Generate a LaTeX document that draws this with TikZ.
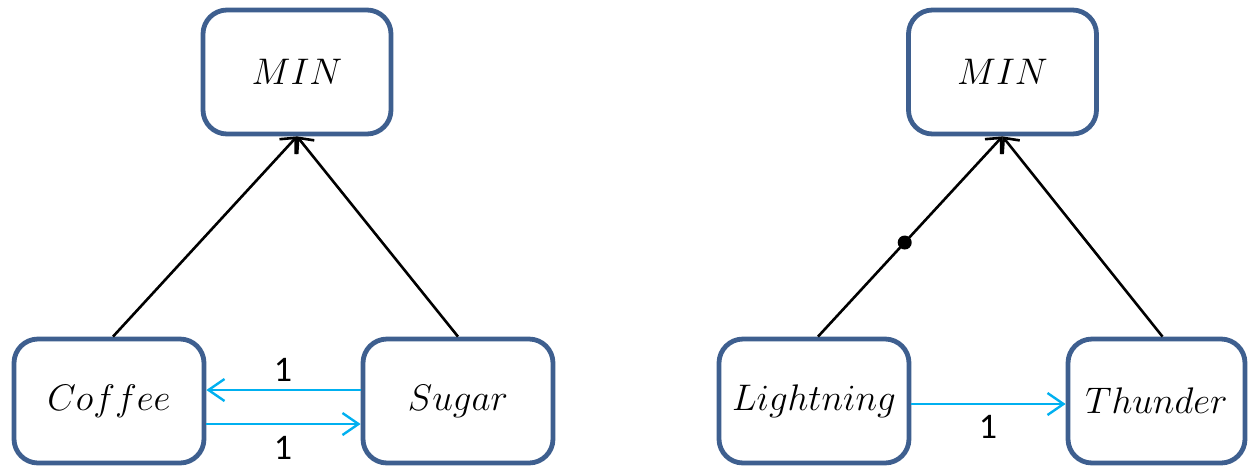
\documentclass[tikz,border=0pt]{standalone}
\usepackage{fix-cm}
\usepackage{fontspec}
\newfontfamily\labelfont{Carlito}
\usetikzlibrary{arrows.meta}
\definecolor{boxblue}{HTML}{3E5F8F}
\definecolor{linkblue}{HTML}{00B0F0}

\begin{document}
\begin{tikzpicture}[x=0.5pt,y=-0.5pt,
  box/.style={draw=boxblue, line width=2.4pt, rounded corners=12pt, fill=white,
    minimum height=62pt, inner sep=0pt, font=\fontsize{18.5}{22}\selectfont},
  feeds/.style={draw=black, line width=1.3pt, -{Straight Barb[length=6pt,width=11pt]}},
  link/.style={draw=linkblue, line width=1.2pt, -{Straight Barb[length=8pt,width=11pt]}},
  joint/.style={circle, fill=black, inner sep=0pt, minimum size=7pt},
  count/.style={font=\labelfont\fontsize{18}{20}\selectfont, inner sep=0pt}]
\useasboundingbox (0,0) rectangle (1248,468);

% left diagram
\node[box, minimum width=94pt] (minA) at (297,72) {$MIN$};
\node[box, minimum width=95pt] (coffee) at (109,401) {$Coffee$};
\node[box, minimum width=95pt] (sugar) at (458,401) {$Sugar$};

\draw[feeds] ([xshift=2pt]coffee.north) -- (minA.south);
\draw[feeds] (sugar.north) -- (minA.south);
\draw[link] ([yshift=5.5pt]sugar.west) -- ([yshift=5.5pt]coffee.east);
\draw[link] ([yshift=-11.5pt]coffee.east) -- ([yshift=-11.5pt]sugar.west);
\node[count] (upper) at (283,370) {1};
\node[count] (lower) at (283,448) {1};

% right diagram
\node[box, minimum width=94pt] (minB) at (1002.5,72) {$MIN$};
\node[box, minimum width=95pt] (lightning) at (814,401) {$Lightning$};
\node[box, minimum width=88.5pt] (thunder) at (1156.5,401) {$Thunder$};

\draw[feeds] ([xshift=2pt]lightning.north) -- node[pos=0.47, joint] (mark) {} (minB.south);
\draw[feeds] ([xshift=3pt]thunder.north) -- (minB.south);
\draw[link] ([yshift=-1.5pt]lightning.east) -- ([yshift=-1.5pt]thunder.west);
\node[count] (once) at (988,427) {1};
\end{tikzpicture}
\end{document}
